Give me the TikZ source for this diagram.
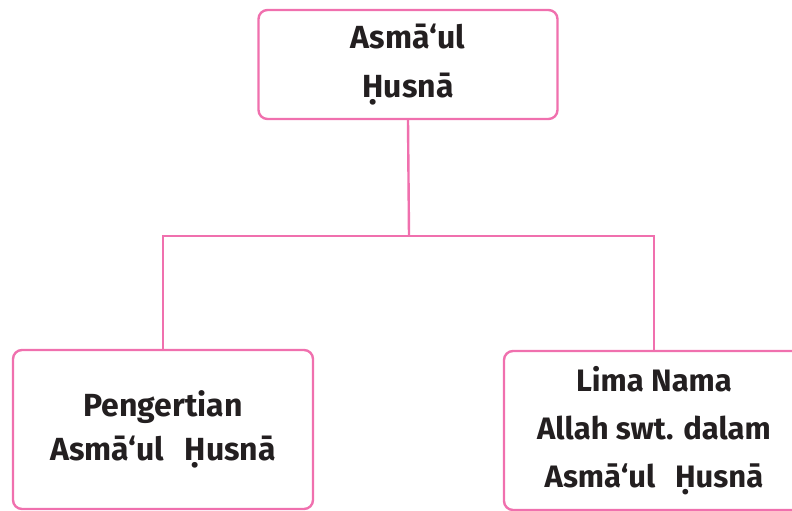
\documentclass[tikz,border=0pt]{standalone}
\usepackage{fontspec}
\setmainfont{Fira Sans}
\definecolor{pinkline}{HTML}{F070AE}
\definecolor{txt}{HTML}{231F20}
\begin{document}
\begin{tikzpicture}[x=1pt,y=-1pt,
  box/.style={draw=pinkline,line width=2.4pt,rounded corners=9pt,align=center,
    text=txt,inner sep=0pt},
  link/.style={draw=pinkline,line width=2.4pt}]
\useasboundingbox (0,0) rectangle (792,511);
\clip (0,0) rectangle (792,511);
\node[box,minimum width=299pt,minimum height=109pt,
  font=\fontsize{32}{49}\selectfont\bfseries] (top) at (408,64.5)
  {Asmā‘ul\\Ḥusnā};
\node[box,minimum width=300pt,minimum height=159pt,
  font=\fontsize{32}{44}\selectfont\bfseries] (left) at (163,429.5)
  {Pengertian\\Asmā‘ul\hspace{0.4em} Ḥusnā};
\node[box,minimum width=300pt,minimum height=159pt,
  font=\fontsize{31}{48}\selectfont\bfseries] (right) at (654,430.5)
  {Lima Nama\\Allah swt. dalam\\Asmā‘ul\hspace{0.4em} Ḥusnā};
\coordinate (hub) at (409,236);
\draw[link] (top.south) -- (hub);
\draw[link] (left.north) |- (hub) -| (right.north);
\end{tikzpicture}
\end{document}
